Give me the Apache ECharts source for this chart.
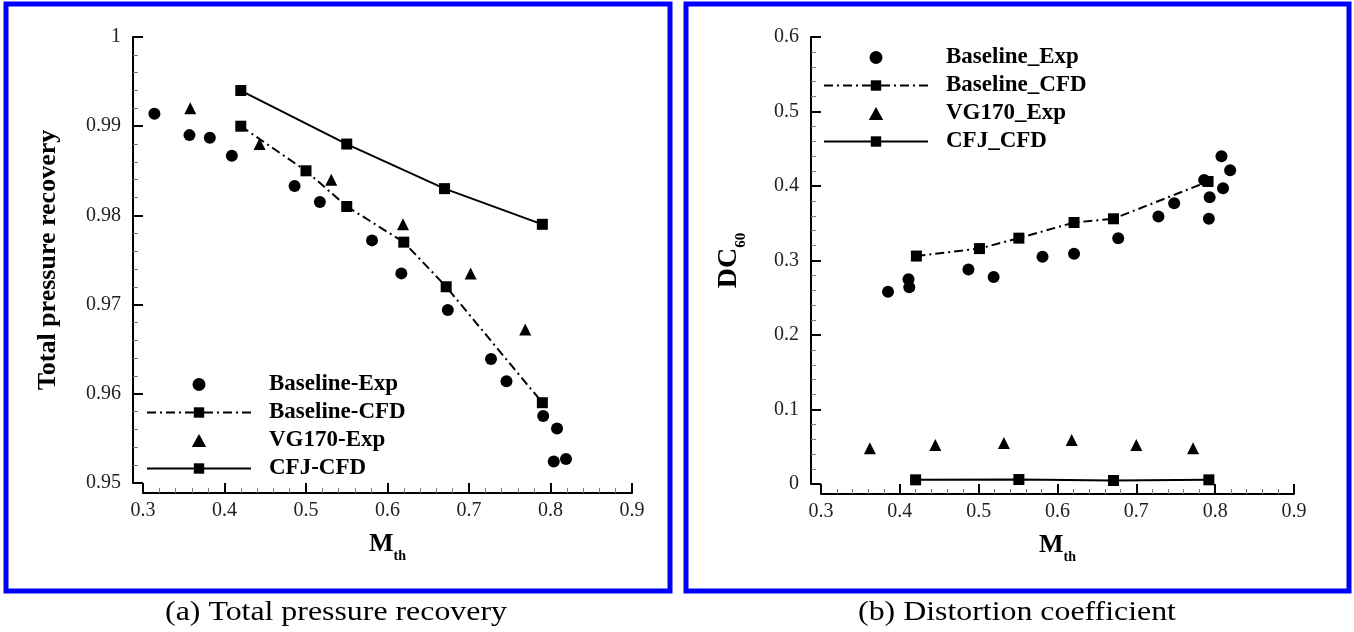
<!DOCTYPE html>
<html>
<head>
<meta charset="utf-8">
<script src="https://cdn.jsdelivr.net/npm/echarts@6/dist/echarts.min.js"></script>
<style>
html, body { margin: 0; padding: 0; background: #fff; }
#main { width: 1354px; height: 632px; }
</style>
</head>
<body>
<div id="main"></div>
<script>
// (a) total pressure recovery vs M_th
var baseExpA = [[0.314,0.9914],[0.357,0.9890],[0.382,0.9887],[0.409,0.9867],[0.486,0.9833],[0.517,0.9815],[0.581,0.9772],[0.617,0.9735],[0.674,0.9694],[0.727,0.9639],[0.746,0.9614],[0.791,0.9575],[0.808,0.9561],[0.804,0.9524],[0.819,0.9527]];
var baseCfdA = [[0.42,0.990],[0.50,0.985],[0.55,0.981],[0.62,0.977],[0.672,0.972],[0.79,0.959]];
var vgExpA = [[0.358,0.992],[0.443,0.988],[0.531,0.984],[0.619,0.979],[0.702,0.9735],[0.769,0.9672]];
var cfjCfdA = [[0.42,0.994],[0.55,0.988],[0.67,0.983],[0.79,0.979]];

// (b) distortion coefficient DC60 vs M_th
var baseExpB = [[0.385,0.258],[0.411,0.275],[0.412,0.264],[0.487,0.288],[0.519,0.278],[0.581,0.305],[0.621,0.309],[0.677,0.330],[0.728,0.359],[0.748,0.377],[0.786,0.408],[0.793,0.385],[0.792,0.356],[0.808,0.440],[0.819,0.421],[0.810,0.397]];
var baseCfdB = [[0.421,0.306],[0.501,0.316],[0.551,0.330],[0.621,0.351],[0.671,0.356],[0.791,0.406]];
var vgExpB = [[0.362,0.048],[0.445,0.0525],[0.532,0.055],[0.618,0.059],[0.700,0.0525],[0.772,0.048]];
var cfjCfdB = [[0.42,0.0056],[0.551,0.006],[0.671,0.0047],[0.792,0.0056]];

var namesA = ['Baseline-Exp', 'Baseline-CFD', 'VG170-Exp', 'CFJ-CFD'];
var namesB = ['Baseline_Exp', 'Baseline_CFD', 'VG170_Exp', 'CFJ_CFD'];
var captions = ['(a) Total pressure recovery', '(b) Distortion coefficient'];

var serif = 'Liberation Serif';
var dashDot = [9, 4, 2, 4];
var triIcon = 'path://M5,0 L10,9 L0,9 Z';

function xAxisFor(idx) {
  return {
    type: 'value', gridIndex: idx, min: 0.3, max: 0.9, interval: 0.1,
    offset: 10,
    name: '{m|M}{s|th}', nameLocation: 'middle', nameGap: 38,
    nameTextStyle: { rich: {
      m: { fontFamily: serif, fontWeight: 'bold', fontSize: 26, color: '#000', padding: [0, 0, 6, 0] },
      s: { fontFamily: serif, fontWeight: 'bold', fontSize: 14, color: '#000', verticalAlign: 'bottom' }
    } },
    axisLine: { onZero: false, lineStyle: { color: '#000', width: 2 } },
    axisTick: { inside: true, length: 10, lineStyle: { color: '#000', width: 2 } },
    minorTick: { show: true, splitNumber: 5, length: 5, lineStyle: { color: '#777', width: 1 } },
    axisLabel: { fontFamily: serif, fontSize: 20, color: '#222', margin: 8 },
    splitLine: { show: false }
  };
}

function yAxisFor(idx, min, max, step, name, gap) {
  return {
    type: 'value', gridIndex: idx, min: min, max: max, interval: step,
    offset: 10,
    name: name, nameLocation: 'middle', nameGap: gap, nameRotate: 90,
    nameTextStyle: { fontFamily: serif, fontWeight: 'bold', fontSize: 26, color: '#000', rich: {
      m: { fontFamily: serif, fontWeight: 'bold', fontSize: 28, color: '#000', padding: [0, 0, 6, 0] },
      s: { fontFamily: serif, fontWeight: 'bold', fontSize: 15, color: '#000', verticalAlign: 'bottom' }
    } },
    axisLine: { onZero: false, lineStyle: { color: '#000', width: 2 } },
    axisTick: { inside: true, length: 10, lineStyle: { color: '#000', width: 2 } },
    minorTick: { show: true, splitNumber: 5, length: 5, lineStyle: { color: '#777', width: 1 } },
    axisLabel: { fontFamily: serif, fontSize: 20, color: '#222', margin: 12 },
    splitLine: { show: false }
  };
}

function seriesFor(idx, names, exp, cfd, vg, cfj) {
  return [
    { name: names[0], type: 'scatter', xAxisIndex: idx, yAxisIndex: idx, data: exp,
      symbol: 'circle', symbolSize: 12, itemStyle: { color: '#000', opacity: 1 } },
    { name: names[1], type: 'line', xAxisIndex: idx, yAxisIndex: idx, data: cfd,
      symbol: 'rect', symbolSize: 11, showAllSymbol: true,
      itemStyle: { color: '#000', opacity: 1 }, lineStyle: { color: '#000', width: 2, type: dashDot } },
    { name: names[2], type: 'scatter', xAxisIndex: idx, yAxisIndex: idx, data: vg,
      symbol: 'triangle', symbolSize: 12, itemStyle: { color: '#000', opacity: 1 } },
    { name: names[3], type: 'line', xAxisIndex: idx, yAxisIndex: idx, data: cfj,
      symbol: 'rect', symbolSize: 11, showAllSymbol: true,
      itemStyle: { color: '#000', opacity: 1 }, lineStyle: { color: '#000', width: 2, type: 'solid' } }
  ];
}

function legendFor(names, left, top) {
  return {
    orient: 'vertical', left: left, top: top, itemWidth: 104, itemHeight: 13, itemGap: 5,
    selectedMode: false,
    data: [names[0], names[1], { name: names[2], icon: triIcon }, names[3]],
    textStyle: { fontFamily: serif, fontWeight: 'bold', fontSize: 23, color: '#000', lineHeight: 20, padding: [0, 0, 0, 13] }
  };
}

function caption(text, x) {
  return { type: 'text', x: x, y: 613, scaleX: 1.18,
    style: { text: text, font: '27px "Liberation Serif"', fill: '#000', align: 'center', verticalAlign: 'middle' } };
}

var chart = echarts.init(document.getElementById('main'));
var option = {
  animation: false,
  backgroundColor: '#fff',
  grid: [
    { left: 143, top: 37, width: 489, height: 446 },
    { left: 821, top: 37, width: 473, height: 447 }
  ],
  xAxis: [xAxisFor(0), xAxisFor(1)],
  yAxis: [
    yAxisFor(0, 0.95, 1, 0.01, 'Total pressure recovery', 72),
    yAxisFor(1, 0, 0.6, 0.1, '{m|DC}{s|60}', 62)
  ],
  legend: [legendFor(namesA, 141, 368), legendFor(namesB, 818, 41)],
  series: seriesFor(0, namesA, baseExpA, baseCfdA, vgExpA, cfjCfdA)
    .concat(seriesFor(1, namesB, baseExpB, baseCfdB, vgExpB, cfjCfdB)),
  graphic: [
    { type: 'rect', shape: { x: 6, y: 4, width: 664, height: 587 }, style: { fill: 'none', stroke: '#0000ff', lineWidth: 5 } },
    { type: 'rect', shape: { x: 686, y: 4, width: 663, height: 587 }, style: { fill: 'none', stroke: '#0000ff', lineWidth: 5 } },
    caption(captions[0], 336),
    caption(captions[1], 1017)
  ]
};
chart.setOption(option);
</script>
</body>
</html>
